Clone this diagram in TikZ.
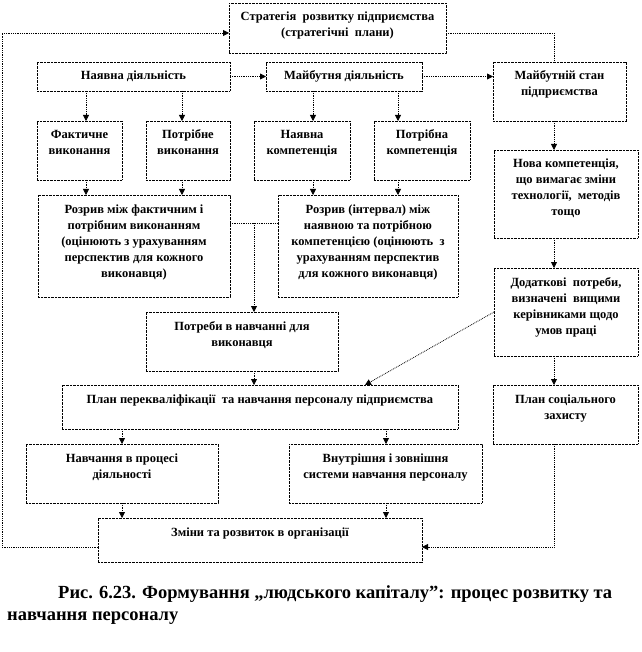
\documentclass[tikz,border=0pt]{standalone}
\usepackage{fontspec}
\setmainfont{Liberation Serif}
\usetikzlibrary{arrows.meta}
\tikzset{
  box/.style={draw, dash pattern=on 0.8pt off 0.6pt, line width=0.9pt, inner sep=0pt, outer sep=0pt, anchor=north west},
  conn/.style={densely dotted, line width=0.8pt},
  arr/.style={conn, -{Triangle[width=6pt,length=6pt]}},
  capt/.style={anchor=base west, inner sep=0pt, font=\bfseries\fontsize{18.5}{22}\selectfont}
}
\newcommand\bx[6]{\node[box] (#1) at (#2,#3) {\parbox[c][#5pt][t]{#4pt}{\centering\bfseries\fontsize{12.5}{16}\selectfont\rule{0pt}{18pt}#6\par}};}
\begin{document}
\begin{tikzpicture}[x=1pt,y=-1pt]
\useasboundingbox (0,0) rectangle (641,652);
\bx{str}{229}{3}{217}{50}{Стратегія\ \ розвитку підприємства\\(стратегічні\ \ плани)}
\bx{nd}{37}{62}{193}{29}{Наявна діяльність}
\bx{md}{266}{62}{156}{29}{Майбутня діяльність}
\bx{ms}{493}{62}{133}{59}{Майбутній стан\\підприємства}
\bx{fv}{37}{121}{85}{59}{Фактичне\\виконання}
\bx{pv}{146}{121}{84}{59}{Потрібне\\виконання}
\bx{nk}{254}{121}{96}{59}{Наявна\\компетенція}
\bx{pk}{374}{121}{96}{59}{Потрібна\\компетенція}
\bx{nova}{494}{150}{144}{88}{Нова компетенція,\\що вимагає зміни\\технології,\ \ методів\\тощо}
\bx{r1}{38}{195}{192}{102}{Розрив між фактичним і\\потрібним виконанням\\(оцінюють з урахуванням\\перспектив для кожного\\виконавця)}
\bx{r2}{278}{195}{180}{102}{Розрив (інтервал) між\\наявною та потрібною\\компетенцією (оцінюють\ \ з\\урахуванням перспектив\\для кожного виконавця)}
\bx{dod}{494}{268}{144}{88}{Додаткові\ \ потреби,\\визначені\ \ вищими\\керівниками щодо\\умов праці}
\bx{potr}{146}{312}{192}{59}{Потреби в навчанні для\\виконавця}
\bx{plan}{62}{385}{396}{44}{План перекваліфікації\ \ та навчання персоналу підприємства}
\bx{sots}{493}{385}{145}{59}{План соціального\\захисту}
\bx{nav}{26}{444}{192}{59}{Навчання в процесі\\діяльності}
\bx{vn}{289}{444}{193}{59}{Внутрішня і зовнішня\\системи навчання персоналу}
\bx{zm}{98}{518}{324}{44}{Зміни та розвиток в організації}
\coordinate (xa) at (86,0);
\coordinate (xb) at (182,0);
\coordinate (xc) at (313,0);
\coordinate (xd) at (398,0);
\coordinate (xe) at (254,0);
\coordinate (xf) at (554,0);
\coordinate (xg) at (122,0);
\coordinate (xh) at (386,0);
\coordinate (xi) at (365,0);
\coordinate (xl) at (2,0);
\coordinate (ya) at (0,33);
\coordinate (yb) at (0,223);
\coordinate (yc) at (0,312);
\coordinate (yd) at (0,547);
\draw[arr] (nd.south -| xa) -- (fv.north -| xa);
\draw[arr] (nd.south -| xb) -- (pv.north -| xb);
\draw[arr] (md.south -| xc) -- (nk.north -| xc);
\draw[arr] (md.south -| xd) -- (pk.north -| xd);
\draw[arr] (fv.south -| xa) -- (r1.north -| xa);
\draw[arr] (pv.south -| xb) -- (r1.north -| xb);
\draw[arr] (nk.south -| xc) -- (r2.north -| xc);
\draw[arr] (pk.south -| xd) -- (r2.north -| xd);
\draw[arr] (nd.east) -- (md.west);
\draw[arr] (md.east) -- (md.east -| ms.west);
\draw[conn] (str.east |- ya) -- (xf |- ya) -- (ms.north -| xf);
\draw[arr] (ms.south -| xf) -- (nova.north -| xf);
\draw[arr] (nova.south -| xf) -- (dod.north -| xf);
\draw[arr] (dod.south -| xf) -- (sots.north -| xf);
\draw[conn] (r1.east |- yb) -- (r2.west |- yb);
\draw[arr] (xe |- yb) -- (potr.north -| xe);
\draw[arr] (potr.south -| xe) -- (plan.north -| xe);
\draw[arr] (dod.west |- yc) -- (plan.north -| xi);
\draw[arr] (plan.south -| xg) -- (nav.north -| xg);
\draw[arr] (plan.south -| xh) -- (vn.north -| xh);
\draw[arr] (nav.south -| xg) -- (zm.north -| xg);
\draw[arr] (vn.south -| xh) -- (zm.north -| xh);
\draw[arr] (sots.south -| xf) -- (xf |- yd) -- (zm.east |- yd);
\draw[arr] (zm.west |- yd) -- (xl |- yd) -- (xl |- ya) -- (str.west |- ya);
\node[capt] (cap1) at (58,598) {\makebox[554pt][s]{Рис. 6.23. Формування „людського капіталу”: процес розвитку та}};
\node[capt] (cap2) at (7,620) {навчання персоналу};
\end{tikzpicture}
\end{document}
